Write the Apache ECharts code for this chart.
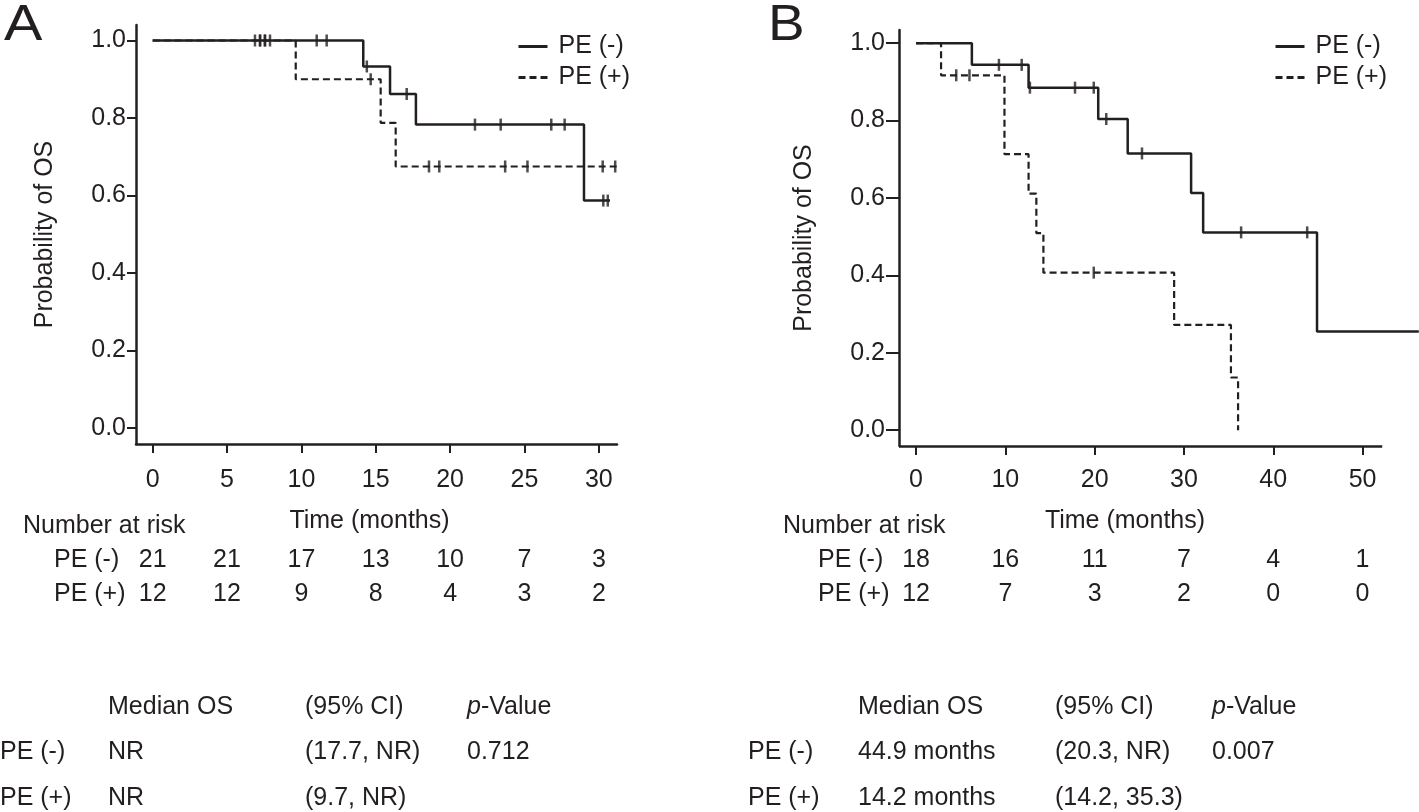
<!DOCTYPE html>
<html><head><meta charset="utf-8">
<script src="https://cdn.jsdelivr.net/npm/echarts@6/dist/echarts.min.js"></script>
<style>html,body{margin:0;padding:0;background:#fff}#c{width:1419px;height:812px}</style>
</head><body><div id="c"></div>
<script>
const FONT = '"Liberation Sans", Arial, Helvetica, sans-serif';
const INK = '#231f20';
const FS = 25;

// ---------- Panel A data ----------
const A_ticks = [0, 5, 10, 15, 20, 25, 30];
const A_neg_t = [0, 14.16, 15.96, 17.7, 29.0, 30.75];
const A_neg_s = [1, 0.933, 0.862, 0.783, 0.587, 0.587];
const A_pos_t = [0, 9.62, 15.33, 16.34, 31.4];
const A_pos_s = [1, 0.9, 0.7875, 0.675, 0.675];
const A_neg_cens_t = [6.88, 7.22, 7.55, 7.89, 11.03, 11.7, 14.4, 17.08, 21.67, 23.4, 26.8, 27.7, 30.3, 30.6];
const A_neg_cens_s = [1, 1, 1, 1, 1, 1, 0.933, 0.862, 0.783, 0.783, 0.783, 0.783, 0.587, 0.587];
const A_pos_cens_t = [7.22, 7.55, 14.66, 18.58, 19.27, 23.7, 25.2, 30.26, 31.1];
const A_pos_cens_s = [1, 1, 0.9, 0.675, 0.675, 0.675, 0.675, 0.675, 0.675];
const A_risk_neg = [21, 21, 17, 13, 10, 7, 3];
const A_risk_pos = [12, 12, 9, 8, 4, 3, 2];
const A_table = [
  ['PE (-)', 'NR', '(17.7, NR)', '0.712'],
  ['PE (+)', 'NR', '(9.7, NR)', '']
];

// ---------- Panel B data ----------
const B_ticks = [0, 10, 20, 30, 40, 50];
const B_axis_end = 52.2;   // where the drawn time axis line stops
const B_neg_t = [0, 6.25, 12.6, 20.4, 23.7, 30.8, 32.15, 44.9, 56.3];
const B_neg_s = [1, 0.944, 0.885, 0.804, 0.715, 0.613, 0.511, 0.255, 0.255];
const B_pos_t = [0, 2.8, 9.9, 12.6, 13.47, 14.26, 28.9, 35.26, 36.06];
const B_pos_s = [1, 0.917, 0.713, 0.611, 0.509, 0.407, 0.272, 0.136, 0];
const B_neg_cens_t = [9.28, 11.83, 12.75, 17.8, 19.9, 21.3, 25.3, 36.4, 43.8];
const B_neg_cens_s = [0.944, 0.944, 0.885, 0.885, 0.885, 0.804, 0.715, 0.511, 0.511];
const B_pos_cens_t = [4.5, 5.98, 19.9];
const B_pos_cens_s = [0.917, 0.917, 0.407];
const B_risk_neg = [18, 16, 11, 7, 4, 1];
const B_risk_pos = [12, 7, 3, 2, 0, 0];
const B_table = [
  ['PE (-)', '44.9 months', '(20.3, NR)', '0.007'],
  ['PE (+)', '14.2 months', '(14.2, 35.3)', '']
];

const Y_ticks = [0, 0.2, 0.4, 0.6, 0.8, 1.0];
const GROUPS = ['PE (-)', 'PE (+)'];

const zip = (a, b) => a.map((v, i) => [v, b[i]]);

const A_X = [-1.12, 31.22], A_Y = [-0.041, 1.04];
const B_X = [-1.91, 56.32], B_Y = [-0.041, 1.034];

function xAxisCfg(grid, range, ticks, margin, gap, pad, showLine) {
  return {
    gridIndex: grid, type: 'value', min: range[0], max: range[1],
    axisLine: { show: showLine, onZero: false, lineStyle: { color: INK, width: 2.5 } },
    axisTick: { show: true, customValues: ticks, length: 9, lineStyle: { color: INK, width: 2 } },
    axisLabel: { customValues: ticks, margin: margin, fontSize: FS, color: INK, fontFamily: FONT },
    splitLine: { show: false },
    name: 'Time (months)', nameLocation: 'middle', nameGap: gap,
    nameTextStyle: { fontSize: FS, color: INK, fontFamily: FONT, padding: pad }
  };
}
function yAxisCfg(grid, range, tickLen, margin, gap) {
  return {
    gridIndex: grid, type: 'value', min: range[0], max: range[1],
    axisLine: { show: true, onZero: false, lineStyle: { color: INK, width: 2.5 } },
    axisTick: { show: true, customValues: Y_ticks, length: tickLen, lineStyle: { color: INK, width: 2 } },
    axisLabel: { customValues: Y_ticks, margin: margin, fontSize: FS, color: INK, fontFamily: FONT,
                 formatter: v => Number(v).toFixed(1) },
    splitLine: { show: false },
    name: 'Probability of OS', nameLocation: 'middle', nameGap: gap,
    nameTextStyle: { fontSize: FS, color: INK, fontFamily: FONT }
  };
}
function curve(name, idx, t, s, dashed) {
  return {
    type: 'line', name: name, xAxisIndex: idx, yAxisIndex: idx, step: 'end', symbol: 'none',
    clip: false, silent: true, animation: false,
    data: zip(t, s),
    lineStyle: { color: INK, width: dashed ? 2.2 : 2.5, type: dashed ? [7, 4] : 'solid' },
    itemStyle: { color: INK }
  };
}
function censor(idx, t, s) {
  return {
    type: 'scatter', xAxisIndex: idx, yAxisIndex: idx, symbol: 'rect', symbolSize: [2.5, 12],
    clip: false, silent: true, animation: false,
    data: zip(t, s), itemStyle: { color: INK }
  };
}
function legendCfg(left, top) {
  return {
    data: GROUPS, orient: 'vertical', left: left, top: top, padding: 0,
    itemWidth: 29, itemHeight: 14, itemGap: 6,
    selectedMode: false, itemStyle: { opacity: 0 },
    lineStyle: { width: 3 },
    textStyle: { fontSize: FS, color: INK, fontFamily: FONT, padding: [0, 0, 0, 6] }
  };
}

// Panel B's time axis line is shorter than its curve, so it is drawn as a markLine
// spanning the axis range on the library's own scale.
const bAxisLine = {
  type: 'line', xAxisIndex: 1, yAxisIndex: 1, data: [], silent: true, animation: false,
  markLine: {
    silent: true, symbol: ['none', 'none'], animation: false,
    label: { show: false },
    lineStyle: { color: INK, width: 2.5, type: 'solid' },
    data: [[{ coord: [B_X[0], B_Y[0]] }, { coord: [B_axis_end, B_Y[0]] }]]
  }
};

const option = {
  animation: false,
  backgroundColor: '#fff',
  grid: [
    { left: 136, top: 25, width: 481, height: 419 },
    { left: 899, top: 30, width: 520, height: 416 }
  ],
  xAxis: [
    xAxisCfg(0, A_X, A_ticks, 24, 65, [0, 14, 0, 0], true),
    xAxisCfg(1, B_X, B_ticks, 22, 63, [0, 68, 0, 0], false)
  ],
  yAxis: [
    yAxisCfg(0, A_Y, 9, 10, 78),
    yAxisCfg(1, B_Y, 13, 14, 82)
  ],
  legend: [legendCfg(517, 34), legendCfg(1274, 34)],
  series: [
    curve('PE (-)', 0, A_neg_t, A_neg_s, false),
    curve('PE (+)', 0, A_pos_t, A_pos_s, true),
    censor(0, A_neg_cens_t, A_neg_cens_s),
    censor(0, A_pos_cens_t, A_pos_cens_s),
    curve('PE (-)', 1, B_neg_t, B_neg_s, false),
    curve('PE (+)', 1, B_pos_t, B_pos_s, true),
    censor(1, B_neg_cens_t, B_neg_cens_s),
    censor(1, B_pos_cens_t, B_pos_cens_s),
    bAxisLine
  ]
};

const chart = echarts.init(document.getElementById('c'), null, { renderer: 'canvas' });
chart.setOption(option);

const g = [];
function txt(x, y, s, align, size, rich, sx) {
  const st = { text: s, fill: INK, fontSize: size || FS, fontFamily: FONT,
               align: align || 'left', textAlign: align || 'left',
               verticalAlign: 'middle', textVerticalAlign: 'middle' };
  if (rich) st.rich = rich;
  const el = { type: 'text', x: x, y: y, silent: true, style: st };
  if (sx) el.scaleX = sx;
  g.push(el);
}
// Panel letters
txt(4, 26, 'A', 'left', 50, null, 1.15);
txt(768, 26, 'B', 'left', 50, null, 1.1);

function riskTable(idx, ticks, neg, pos, titleX, rowX) {
  txt(titleX, 526, 'Number at risk');
  txt(rowX, 560, GROUPS[0]);
  txt(rowX, 594, GROUPS[1]);
  ticks.forEach((t, i) => {
    const px = chart.convertToPixel({ xAxisIndex: idx }, t);
    txt(px, 560, String(neg[i]), 'center');
    txt(px, 594, String(pos[i]), 'center');
  });
}
riskTable(0, A_ticks, A_risk_neg, A_risk_pos, 23, 54);
riskTable(1, B_ticks, B_risk_neg, B_risk_pos, 783, 818);

const pRich = { i: { fontStyle: 'italic', fontSize: FS, fontFamily: FONT, fill: INK, color: INK } };
function statTable(cols, rows) {
  txt(cols[1], 707, 'Median OS');
  txt(cols[2], 707, '(95% CI)');
  txt(cols[3], 707, '{i|p}-Value', 'left', FS, pRich);
  rows.forEach((r, k) => {
    const y = 752 + k * 46;
    r.forEach((cell, j) => { if (cell) txt(cols[j], y, cell); });
  });
}
statTable([0, 108, 305, 467], A_table);
statTable([748, 858, 1055, 1212], B_table);

chart.setOption({ graphic: g });
</script></body></html>
